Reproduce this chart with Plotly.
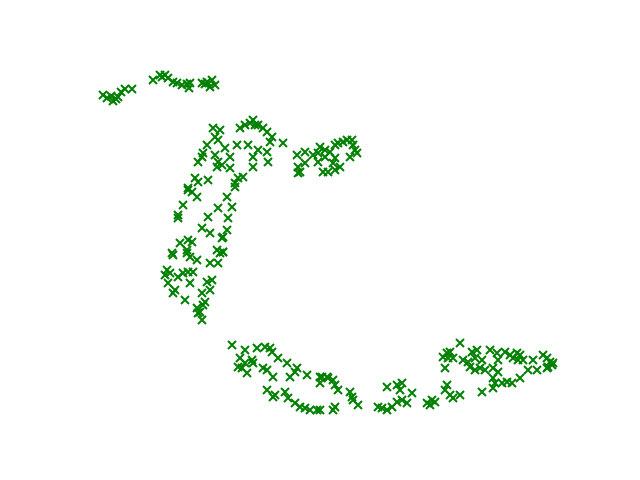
import plotly.graph_objects as go

# embedding coordinates (x, y with y increasing upward)
pts = [
    # top-left group
    (103,95),(107,98),(113,101),(118,97),(121,92),(125,89),(132,89),(116,99),(111,96),
    (153,80),(160,75),(165,75),(168,78),(173,82),(177,83),(182,85),(187,84),(189,88),(190,83),(162,77),
    (202,83),(207,82),(212,80),(215,85),(210,87),(205,84),
    # upper middle
    (213,128),(220,130),(215,137),(218,140),(240,128),(245,125),(250,123),(253,120),(255,125),(258,125),
    (263,128),(267,132),(272,137),(270,142),(283,143),(207,145),(203,153),(198,162),(202,157),(215,155),
    (225,148),(237,145),(248,145),(258,150),(253,157),(267,152),(268,162),(230,157),(218,162),(222,165),
    (217,167),(230,168),(253,167),(243,177),(238,178),(235,183),(195,178),(198,182),(208,180),(188,188),
    (188,190),(192,192),(197,197),(235,187),(227,197),(232,207),(218,208),(208,217),(228,218),(183,205),
    (178,215),(178,218),(202,228),(210,233),(227,230),(223,237),(222,238),(180,243),(188,240),(192,242),
    (187,250),(217,250),(223,252),(172,253),
    (173,255),(187,253),(190,257),(197,260),(210,263),(218,263),(220,253),(223,252),(167,270),(170,273),
    (165,275),(178,277),(183,273),(188,272),(193,272),(190,283),(168,283),(175,290),(173,293),(185,300),
    (207,282),(212,280),(210,290),(202,293),(205,302),(203,305),(197,308),(200,312),(202,320),(198,313),
    # right upper
    (297,155),(305,152),(298,167),(300,172),(298,173),(305,163),(313,155),(318,153),(320,147),
    (325,150),(330,152),(335,145),(338,143),(343,142),(347,140),(352,140),(353,145),(355,150),(357,153),
    (350,157),(335,158),(333,163),(340,167),(335,170),(328,172),(323,172),(325,157),(318,162),
    # bottom left
    (232,345),(245,350),(257,348),(265,347),(270,348),(272,352),(278,358),(287,363),(297,368),(295,372),
    (290,377),(307,375),(320,377),(320,383),(327,377),(240,358),(238,367),(245,363),(252,360),(253,363),
    (247,373),(242,368),(263,368),(267,370),(273,377),(267,390),(275,395),(273,397),(285,392),(288,398),
    (295,403),(300,407),(305,408),(310,410),(317,410),(320,410),
    (322,377),(328,378),(333,380),(335,385),(338,390),(350,392),(352,397),(353,400),(358,405),(335,407),
    (333,410),
    (378,407),(382,408),(387,410),(392,407),(397,402),(402,400),(407,403),(387,387),(397,385),(402,383),
    (400,390),(412,393),
    # bottom right
    (427,403),(430,405),(435,402),(432,400),(447,385),(445,390),(450,395),(453,398),(460,395),(482,392),
    (443,357),(447,353),(450,352),(448,358),(445,368),(453,358),(460,343),(463,360),(468,362),(472,352),
    (477,350),(475,358),(470,367),(475,370),(480,368),(485,370),(482,360),(490,350),(497,353),(498,360),
    (493,368),(498,372),(493,378),(495,383),(502,383),(507,382),(512,383),(505,352),(510,355),(513,358),
    (517,353),(520,355),(518,360),(523,360),(520,378),(528,370),(537,370),(533,360),(543,355),(547,358),
    (550,362),(548,367),(552,365),(553,363),(547,368),(493,388),
]

x_vals = [p[0] for p in pts]
y_vals = [480 - p[1] for p in pts]

fig = go.Figure()
fig.add_trace(go.Scatter(
    x=x_vals, y=y_vals, mode="markers",
    marker=dict(symbol="x-thin", size=8, color="green",
                line=dict(color="green", width=2)),
    showlegend=False, hoverinfo="skip",
))
fig.update_layout(
    width=640, height=480,
    margin=dict(l=0, r=0, t=0, b=0),
    paper_bgcolor="white", plot_bgcolor="white",
    xaxis=dict(range=[0, 640], visible=False),
    yaxis=dict(range=[0, 480], visible=False),
)
fig.write_html("out.html")
